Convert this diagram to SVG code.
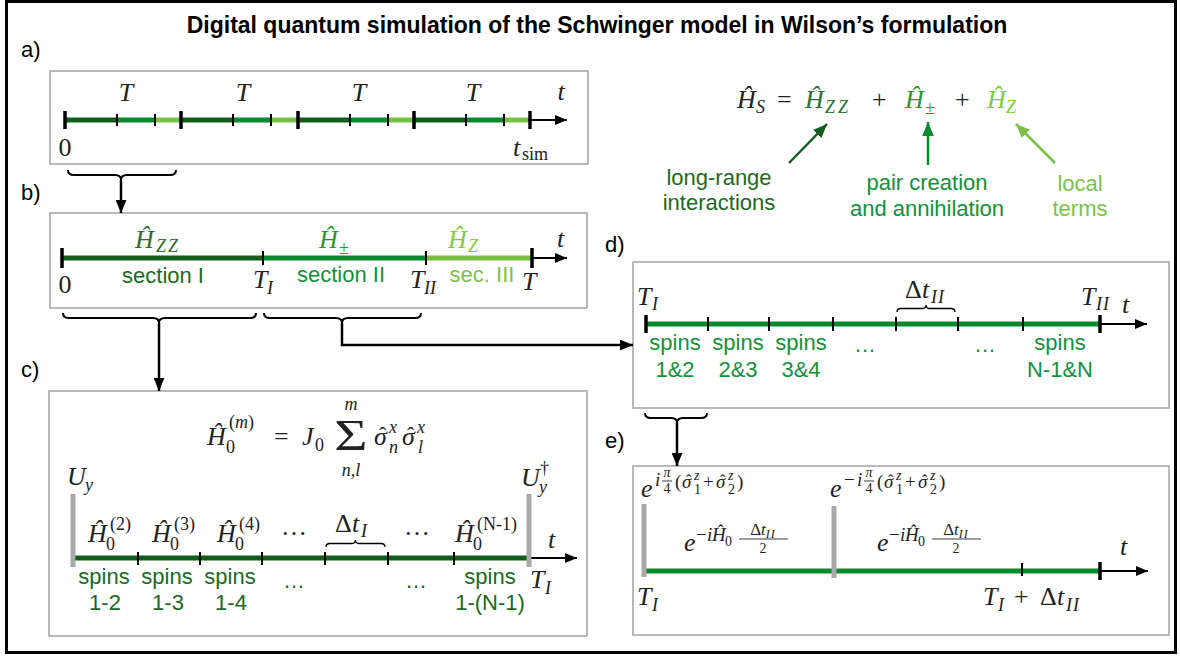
<svg xmlns="http://www.w3.org/2000/svg" width="1180" height="656" viewBox="0 0 1180 656">
<defs>
<style>
.frame{fill:none;stroke:#000;stroke-width:3}
.box{fill:#fff;stroke:#a3a3a3;stroke-width:1.5}
.sans{font-family:"Liberation Sans",Arial,sans-serif}
.title{font-size:23px;font-weight:bold;fill:#000}
.lab{font-size:22px;fill:#000}
.txt{font-size:22px}
.m{font-family:"Liberation Serif","Times New Roman",serif;font-style:italic;font-size:26px;fill:#222}
.up{font-style:normal}
.sub{font-size:18px}
.ex{font-size:19px}
.sm{font-size:14px}
.hat{font-style:normal}
.g1{fill:#1b6a24}.g2{fill:#12913a}.g3{fill:#7cc24a}
.mg1{fill:#2b6e2e}.mg2{fill:#2b982f}.mg3{fill:#80cc3c}
.l1{stroke:#145c1c;stroke-width:5}
.l2{stroke:#0a8a2f;stroke-width:5}
.l3{stroke:#79c043;stroke-width:5}
.tk{stroke:#000;stroke-width:2}
.bt{stroke:#000;stroke-width:3.5}
.ax{stroke:#000;stroke-width:2;marker-end:url(#ah)}
.bar{stroke:#a9a9a9;stroke-width:5}
.br{fill:none;stroke:#000;stroke-width:2}
.sbr{fill:none;stroke:#000;stroke-width:1.3}
.fb{stroke:#222;stroke-width:0.9}
.cn{fill:none;stroke:#000;stroke-width:2.5;marker-end:url(#ahc)}
</style>
<marker id="ah" viewBox="0 0 12 10" refX="12" refY="5" markerWidth="12" markerHeight="10" markerUnits="userSpaceOnUse" orient="auto"><path d="M0,0 L12,5 L0,10 z" fill="#000"/></marker>
<marker id="ahc" viewBox="0 0 12 10" refX="12" refY="5" markerWidth="13" markerHeight="11" markerUnits="userSpaceOnUse" orient="auto"><path d="M0,0 L12,5 L0,10 z" fill="#000"/></marker>
<marker id="ag1" viewBox="0 0 12 10" refX="12" refY="5" markerWidth="14" markerHeight="12" markerUnits="userSpaceOnUse" orient="auto"><path d="M0,0 L12,5 L0,10 z" fill="#145c1c"/></marker>
<marker id="ag2" viewBox="0 0 12 10" refX="12" refY="5" markerWidth="14" markerHeight="12" markerUnits="userSpaceOnUse" orient="auto"><path d="M0,0 L12,5 L0,10 z" fill="#0a8a2f"/></marker>
<marker id="ag3" viewBox="0 0 12 10" refX="12" refY="5" markerWidth="14" markerHeight="12" markerUnits="userSpaceOnUse" orient="auto"><path d="M0,0 L12,5 L0,10 z" fill="#79c043"/></marker>
</defs>
<rect x="0" y="0" width="1180" height="656" fill="#fff"/>
<rect class="frame" x="6.5" y="1.5" width="1169" height="651"/>
<text class="sans title" x="597" y="33" text-anchor="middle">Digital quantum simulation of the Schwinger model in Wilson’s formulation</text>

<g id="hamiltonian">
<text class="m" x="737" y="108">Ĥ</text><text class="m sub" x="756" y="113">S</text>
<text class="m up" x="777" y="108">=</text>
<text class="m mg1" x="805" y="108">Ĥ</text><text class="m sub mg1" x="825" y="113" letter-spacing="3">ZZ</text>
<text class="m up" x="872" y="108">+</text>
<text class="m mg2" x="905" y="108">Ĥ</text><text class="m sub up mg2" x="925" y="114">±</text>
<text class="m up" x="955" y="108">+</text>
<text class="m mg3" x="987" y="108">Ĥ</text><text class="m sub mg3" x="1006" y="113">Z</text>
<line x1="789" y1="163" x2="827" y2="124" stroke="#145c1c" stroke-width="2.5" marker-end="url(#ag1)"/>
<line x1="928" y1="165" x2="928" y2="122" stroke="#0a8a2f" stroke-width="2.5" marker-end="url(#ag2)"/>
<line x1="1055" y1="163" x2="1016" y2="124" stroke="#79c043" stroke-width="2.5" marker-end="url(#ag3)"/>
<text class="sans txt g1" text-anchor="middle"><tspan x="719" y="185">long-range</tspan><tspan x="719" y="210">interactions</tspan></text>
<text class="sans txt g2" text-anchor="middle"><tspan x="927" y="190">pair creation</tspan><tspan x="927" y="216">and annihilation</tspan></text>
<text class="sans txt g3" text-anchor="middle"><tspan x="1080" y="191">local</tspan><tspan x="1080" y="216">terms</tspan></text>
</g>

<g id="panel-a">
<text class="sans lab" x="21" y="57">a)</text>
<rect class="box" x="50" y="71" width="538" height="93"/>
<line class="l1" x1="65" y1="120" x2="117" y2="120"/><line class="l2" x1="117" y1="120" x2="155" y2="120"/><line class="l3" x1="155" y1="120" x2="181" y2="120"/>
<line class="l1" x1="181" y1="120" x2="233" y2="120"/><line class="l2" x1="233" y1="120" x2="271" y2="120"/><line class="l3" x1="271" y1="120" x2="298" y2="120"/>
<line class="l1" x1="298" y1="120" x2="350" y2="120"/><line class="l2" x1="350" y1="120" x2="388" y2="120"/><line class="l3" x1="388" y1="120" x2="414" y2="120"/>
<line class="l1" x1="414" y1="120" x2="466" y2="120"/><line class="l2" x1="466" y1="120" x2="504" y2="120"/><line class="l3" x1="504" y1="120" x2="530" y2="120"/>
<line class="ax" x1="530" y1="120" x2="567" y2="120"/>
<g class="bt"><line x1="65" y1="111" x2="65" y2="129"/><line x1="181" y1="111" x2="181" y2="129"/><line x1="298" y1="111" x2="298" y2="129"/><line x1="414" y1="111" x2="414" y2="129"/><line x1="530" y1="111" x2="530" y2="129"/></g>
<g class="tk"><line x1="117" y1="114" x2="117" y2="126"/><line x1="155" y1="114" x2="155" y2="126"/><line x1="233" y1="114" x2="233" y2="126"/><line x1="271" y1="114" x2="271" y2="126"/><line x1="350" y1="114" x2="350" y2="126"/><line x1="388" y1="114" x2="388" y2="126"/><line x1="466" y1="114" x2="466" y2="126"/><line x1="504" y1="114" x2="504" y2="126"/></g>
<g class="m" text-anchor="middle"><text x="126" y="101">T</text><text x="243" y="101">T</text><text x="359" y="101">T</text><text x="473" y="101">T</text><text x="561" y="100">t</text><text class="up" x="65" y="156">0</text></g>
<text class="m" x="513" y="156">t</text><text class="m up sub" x="522" y="160">sim</text>
</g>

<g id="panel-b">
<text class="sans lab" x="21" y="200">b)</text>
<rect class="box" x="50" y="213" width="537" height="95"/>
<line class="l1" x1="62" y1="258" x2="263" y2="258"/><line class="l2" x1="263" y1="258" x2="426" y2="258"/><line class="l3" x1="426" y1="258" x2="532" y2="258"/>
<line class="ax" x1="532" y1="258" x2="567" y2="258"/>
<line class="bt" x1="62" y1="248" x2="62" y2="268"/><line class="bt" x1="532" y1="248" x2="532" y2="268"/>
<line class="tk" x1="263" y1="251" x2="263" y2="265"/><line class="tk" x1="426" y1="251" x2="426" y2="265"/>
<text class="m mg1" x="135" y="248">Ĥ</text><text class="m sub mg1" x="156" y="252" letter-spacing="2">ZZ</text>
<text class="m mg2" x="319" y="248">Ĥ</text><text class="m sub up mg2" x="339" y="254">±</text>
<text class="m mg3" x="448" y="248">Ĥ</text><text class="m sub mg3" x="468" y="252">Z</text>
<text class="m" x="557" y="247">t</text>
<text class="sans txt g1" x="163" y="283" text-anchor="middle">section I</text>
<text class="sans txt g2" x="341" y="282" text-anchor="middle">section II</text>
<text class="sans txt g3" x="482" y="282" text-anchor="middle">sec. III</text>
<text class="m up" x="65" y="293" text-anchor="middle">0</text>
<text class="m" x="253" y="288">T</text><text class="m sub" x="267" y="294">I</text>
<text class="m" x="410" y="288">T</text><text class="m sub" x="424" y="294">II</text>
<text class="m" x="522" y="290">T</text>
</g>

<g id="panel-c">
<text class="sans lab" x="21" y="377">c)</text>
<rect class="box" x="49" y="391" width="538" height="245"/>
<text class="m" x="207" y="445">Ĥ</text>
<text class="m sub" x="229" y="428"><tspan class="up">(</tspan>m<tspan class="up">)</tspan></text>
<text class="m sub up" x="226" y="453">0</text>
<text class="m up" x="274" y="445">=</text>
<text class="m" x="302" y="445">J</text><text class="m sub up" x="315" y="451">0</text>
<text class="m up" text-anchor="middle" transform="translate(351,450) scale(1.3,1)" style="font-size:44px">Σ</text>
<text class="m sub" x="351" y="410" text-anchor="middle">m</text>
<text class="m sub" x="351" y="476" text-anchor="middle">n,l</text>
<text class="m" x="374" y="445">σ<tspan class="hat" x="379" y="442" style="font-size:22px">ˆ</tspan><tspan class="sub" x="389" y="433">x</tspan><tspan class="sub" x="389" y="453">n</tspan></text>
<text class="m" x="402" y="445">σ<tspan class="hat" x="407" y="442" style="font-size:22px">ˆ</tspan><tspan class="sub" x="417" y="433">x</tspan><tspan class="sub" x="418" y="453">l</tspan></text>
<text class="m" x="67" y="485">U</text><text class="m sub" x="85" y="491">y</text>
<text class="m" x="521" y="486">U</text><text class="m sub up" x="540" y="474">†</text><text class="m sub" x="539" y="493">y</text>
<line class="l1" x1="74" y1="558" x2="529" y2="558"/>
<line class="ax" x1="529" y1="558" x2="577" y2="558"/>
<line class="bar" x1="73" y1="494" x2="73" y2="567"/><line class="bar" x1="529" y1="494" x2="529" y2="567"/>
<g class="tk"><line x1="138" y1="552" x2="138" y2="565"/><line x1="200" y1="552" x2="200" y2="565"/><line x1="262" y1="552" x2="262" y2="565"/><line x1="325" y1="552" x2="325" y2="565"/><line x1="388" y1="552" x2="388" y2="565"/><line x1="454" y1="552" x2="454" y2="565"/></g>
<text class="m" x="88" y="542">Ĥ</text><text class="m sub up" x="106" y="550">0</text><text class="m sub up" x="110" y="530">(2)</text>
<text class="m" x="152" y="542">Ĥ</text><text class="m sub up" x="170" y="550">0</text><text class="m sub up" x="174" y="530">(3)</text>
<text class="m" x="217" y="542">Ĥ</text><text class="m sub up" x="235" y="550">0</text><text class="m sub up" x="239" y="530">(4)</text>
<text class="m up" x="294" y="535" text-anchor="middle">…</text>
<text class="m up" x="335" y="532">Δ</text><text class="m" x="352" y="532">t</text><text class="m sub" x="361" y="537" letter-spacing="1">I</text>
<path class="sbr" d="M326,547 Q326,543.5 330,543.5 L351.5,543.5 Q355.5,543.5 355.5,540 Q355.5,543.5 359.5,543.5 L381,543.5 Q385,543.5 385,547"/>
<text class="m up" x="417" y="535" text-anchor="middle">…</text>
<text class="m" x="455" y="542">Ĥ</text><text class="m sub up" x="473" y="550">0</text><text class="m sub up" x="477" y="530">(N-1)</text>
<text class="m" x="548" y="548">t</text>
<g class="sans txt g1" text-anchor="middle">
<text x="104" y="584">spins</text><text x="105" y="610">1-2</text>
<text x="167" y="584">spins</text><text x="168" y="610">1-3</text>
<text x="230" y="584">spins</text><text x="231" y="610">1-4</text>
<text x="294" y="588">…</text><text x="416" y="588">…</text>
<text x="490" y="584">spins</text><text x="490" y="610">1-(N-1)</text>
</g>
<text class="m" x="530" y="588">T</text><text class="m sub" x="545" y="594">I</text>
</g>

<g id="panel-d">
<text class="sans lab" x="605" y="252">d)</text>
<rect class="box" x="633" y="262" width="536" height="146"/>
<line class="l2" x1="646" y1="324" x2="1100" y2="324"/>
<line class="ax" x1="1100" y1="324" x2="1147" y2="324"/>
<line class="bt" x1="646" y1="315" x2="646" y2="333"/><line class="bt" x1="1100" y1="315" x2="1100" y2="333"/>
<g class="tk"><line x1="708" y1="317" x2="708" y2="331"/><line x1="769" y1="317" x2="769" y2="331"/><line x1="833" y1="317" x2="833" y2="331"/><line x1="896" y1="317" x2="896" y2="331"/><line x1="958" y1="317" x2="958" y2="331"/><line x1="1023" y1="317" x2="1023" y2="331"/></g>
<text class="m" x="637" y="305">T</text><text class="m sub" x="652" y="310">I</text>
<text class="m up" x="905" y="298">Δ</text><text class="m" x="922" y="298">t</text><text class="m sub" x="931" y="303" letter-spacing="1">II</text>
<path class="sbr" d="M897,312 Q897,308.5 901,308.5 L922,308.5 Q926,308.5 926,305 Q926,308.5 930,308.5 L951,308.5 Q955,308.5 955,312"/>
<text class="m" x="1081" y="305">T</text><text class="m sub" x="1096" y="310" letter-spacing="1">II</text>
<text class="m" x="1122" y="313">t</text>
<g class="sans txt g2" text-anchor="middle">
<text x="675" y="350">spins</text><text x="675" y="377">1&amp;2</text>
<text x="738" y="350">spins</text><text x="738" y="377">2&amp;3</text>
<text x="801" y="350">spins</text><text x="801" y="377">3&amp;4</text>
<text x="865" y="352">…</text><text x="985" y="352">…</text>
<text x="1060" y="350">spins</text><text x="1060" y="377">N-1&amp;N</text>
</g>
</g>

<g id="panel-e">
<text class="sans lab" x="605" y="448">e)</text>
<rect class="box" x="633" y="466" width="536" height="169"/>
<line class="l2" x1="644" y1="571" x2="1100" y2="571"/>
<line class="ax" x1="1100" y1="571" x2="1148" y2="571"/>
<line class="bar" x1="644" y1="504" x2="644" y2="577"/><line class="bar" x1="834" y1="506" x2="834" y2="578"/>
<line class="tk" x1="1022" y1="563" x2="1022" y2="576"/><line class="bt" x1="1100" y1="562" x2="1100" y2="580"/>
<text class="m" x="641" y="497">e</text>
<text class="m ex" x="655" y="486">i</text>
<text class="m sm" x="667" y="477" text-anchor="middle">π</text><line class="fb" x1="662" y1="481" x2="672" y2="481"/><text class="m sm up" x="667" y="493" text-anchor="middle">4</text>
<text class="m ex" x="675" y="488"><tspan class="up">(</tspan><tspan x="682">σ</tspan><tspan class="hat" x="686" y="486" style="font-size:16px">ˆ</tspan><tspan class="sm" x="694" y="480">z</tspan><tspan class="sm up" x="694" y="494">1</tspan><tspan class="up" x="703" y="488">+</tspan><tspan x="716">σ</tspan><tspan class="hat" x="720" y="486" style="font-size:16px">ˆ</tspan><tspan class="sm" x="728" y="480">z</tspan><tspan class="sm up" x="728" y="494">2</tspan><tspan class="up" x="737" y="488">)</tspan></text>
<text class="m" x="830" y="497">e</text>
<text class="m ex up" x="844" y="486">−</text><text class="m ex" x="857" y="486">i</text>
<text class="m sm" x="869" y="477" text-anchor="middle">π</text><line class="fb" x1="864" y1="481" x2="874" y2="481"/><text class="m sm up" x="869" y="493" text-anchor="middle">4</text>
<text class="m ex" x="877" y="488"><tspan class="up">(</tspan><tspan x="884">σ</tspan><tspan class="hat" x="888" y="486" style="font-size:16px">ˆ</tspan><tspan class="sm" x="896" y="480">z</tspan><tspan class="sm up" x="896" y="494">1</tspan><tspan class="up" x="905" y="488">+</tspan><tspan x="918">σ</tspan><tspan class="hat" x="922" y="486" style="font-size:16px">ˆ</tspan><tspan class="sm" x="930" y="480">z</tspan><tspan class="sm up" x="930" y="494">2</tspan><tspan class="up" x="939" y="488">)</tspan></text>
<text class="m" x="684" y="551">e</text>
<text class="m ex up" x="696" y="541">−</text><text class="m ex" x="707" y="541">i</text><text class="m ex" x="712" y="541">Ĥ</text><text class="m sm up" x="725" y="546">0</text>
<text class="m sm" x="763" y="535" text-anchor="middle" style="font-size:17px"><tspan class="up">Δ</tspan>t<tspan font-size="12" dy="3" letter-spacing="1">II</tspan></text>
<line class="fb" x1="739" y1="539" x2="788" y2="539"/>
<text class="m sm up" x="763" y="553" text-anchor="middle">2</text>
<text class="m" x="877" y="551">e</text>
<text class="m ex up" x="889" y="541">−</text><text class="m ex" x="900" y="541">i</text><text class="m ex" x="905" y="541">Ĥ</text><text class="m sm up" x="918" y="546">0</text>
<text class="m sm" x="956" y="535" text-anchor="middle" style="font-size:17px"><tspan class="up">Δ</tspan>t<tspan font-size="12" dy="3" letter-spacing="1">II</tspan></text>
<line class="fb" x1="932" y1="539" x2="981" y2="539"/>
<text class="m sm up" x="956" y="553" text-anchor="middle">2</text>
<text class="m" x="1120" y="555">t</text>
<text class="m" x="637" y="605">T</text><text class="m sub" x="652" y="611">I</text>
<text class="m" x="983" y="605">T</text><text class="m sub" x="998" y="611">I</text><text class="m up" x="1014" y="605">+</text><text class="m up" x="1040" y="605">Δ</text><text class="m" x="1057" y="605">t</text><text class="m sub" x="1066" y="611" letter-spacing="1">II</text>
</g>

<g id="connectors">
<path class="br" d="M68,170 Q68,175 74,175 L115,175 Q121,175 121,180 Q121,175 127,175 L170,175 Q176,175 176,170"/>
<line class="cn" x1="121" y1="180" x2="121" y2="213"/>
<path class="br" d="M63,313 Q63,318 69,318 L153,318 Q159,318 159,323 Q159,318 165,318 L250,318 Q256,318 256,313"/>
<line class="cn" x1="159" y1="323" x2="159" y2="391"/>
<path class="br" d="M264,313 Q264,318 270,318 L336,318 Q342,318 342,323 Q342,318 348,318 L415,318 Q421,318 421,313"/>
<polyline class="cn" points="342,323 342,345 633,345"/>
<path class="br" d="M645,413 Q645,418 651,418 L671,418 Q677,418 677,423 Q677,418 683,418 L701,418 Q707,418 707,413"/>
<line class="cn" x1="677" y1="423" x2="677" y2="466"/>
</g>
</svg>
